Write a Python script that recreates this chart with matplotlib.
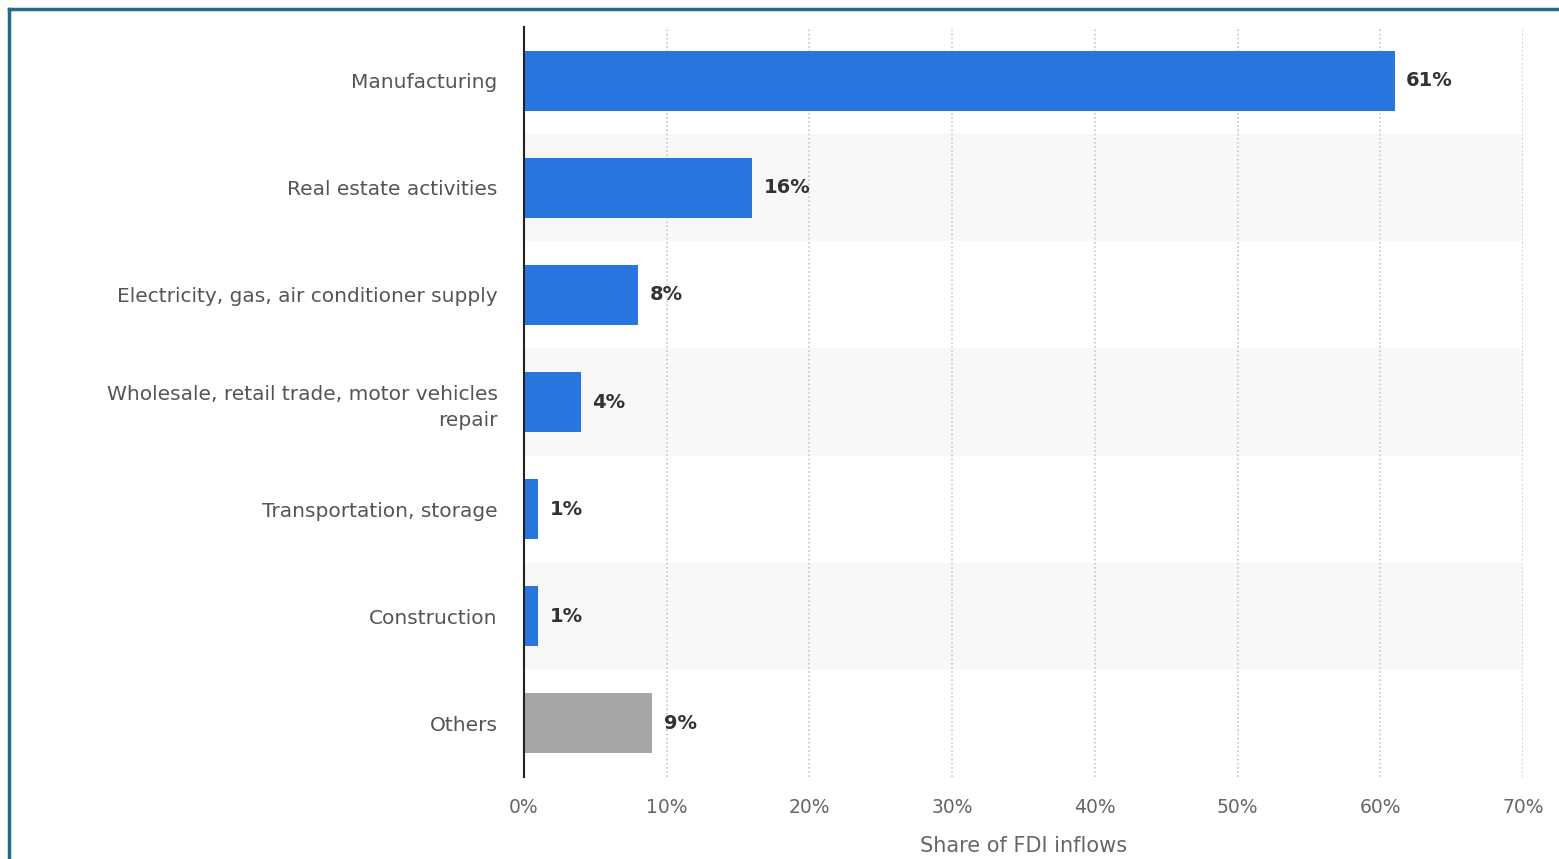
import matplotlib.pyplot as plt
from matplotlib.lines import Line2D

# Share of FDI inflows by sector
sectors = [
    "Manufacturing",
    "Real estate activities",
    "Electricity, gas, air conditioner supply",
    "Wholesale, retail trade, motor vehicles\nrepair",
    "Transportation, storage",
    "Construction",
    "Others",
]
shares = [61, 16, 8, 4, 1, 1, 9]
bar_colors = ["#2876dd"] * 6 + ["#a6a6a6"]
x_ticks = [0, 10, 20, 30, 40, 50, 60, 70]

fig = plt.figure(figsize=(15.59, 8.59), dpi=100)
ax = fig.add_axes([524 / 1559, 1 - 777 / 859, (1523 - 524) / 1559, 750 / 859])

n = len(sectors)
pos = list(range(n))

# light stripes behind every second row
for i in pos:
    if i % 2 == 1:
        ax.axhspan(i - 0.5, i + 0.5, color="#f8f8f8", zorder=0, lw=0)

ax.barh(pos, shares, height=0.56, color=bar_colors, zorder=3)

for i, v in enumerate(shares):
    ax.annotate(f"{v}%", (v, i), xytext=(8, 0), textcoords="offset points",
                va="center", ha="left", fontsize=14, color="#333333",
                fontweight="bold", zorder=4)

ax.set_xlim(0, 70)
ax.set_ylim(n - 0.5, -0.5)
ax.set_xticks(x_ticks)
ax.set_xticklabels([f"{t}%" for t in x_ticks], color="#666666", fontsize=13.5)
ax.set_yticks(pos)
ax.set_yticklabels(sectors, color="#555555", fontsize=14.5, linespacing=1.45)
ax.tick_params(axis="both", length=0)
ax.tick_params(axis="y", pad=19)
ax.tick_params(axis="x", pad=15)

ax.grid(axis="x", color="#c8c8c8", linestyle=(0, (1, 1.5)), linewidth=1.2, zorder=1)
ax.set_axisbelow(True)

for side in ["top", "right", "bottom"]:
    ax.spines[side].set_visible(False)
ax.spines["left"].set_color("#222222")
ax.spines["left"].set_linewidth(1.5)
ax.spines["left"].set_zorder(5)

ax.set_xlabel("Share of FDI inflows", color="#666666", fontsize=15)
ax.xaxis.set_label_coords(0.5, -0.078)

# outer frame
frame_color = "#22698c"
fig.add_artist(Line2D([9 / 1559, 9 / 1559], [0, 1 - 9 / 859],
                      transform=fig.transFigure, color=frame_color, lw=2.5))
fig.add_artist(Line2D([9 / 1559, 1], [1 - 9 / 859, 1 - 9 / 859],
                      transform=fig.transFigure, color=frame_color, lw=2.5))

fig.savefig("out.png", dpi=100, facecolor="white")
